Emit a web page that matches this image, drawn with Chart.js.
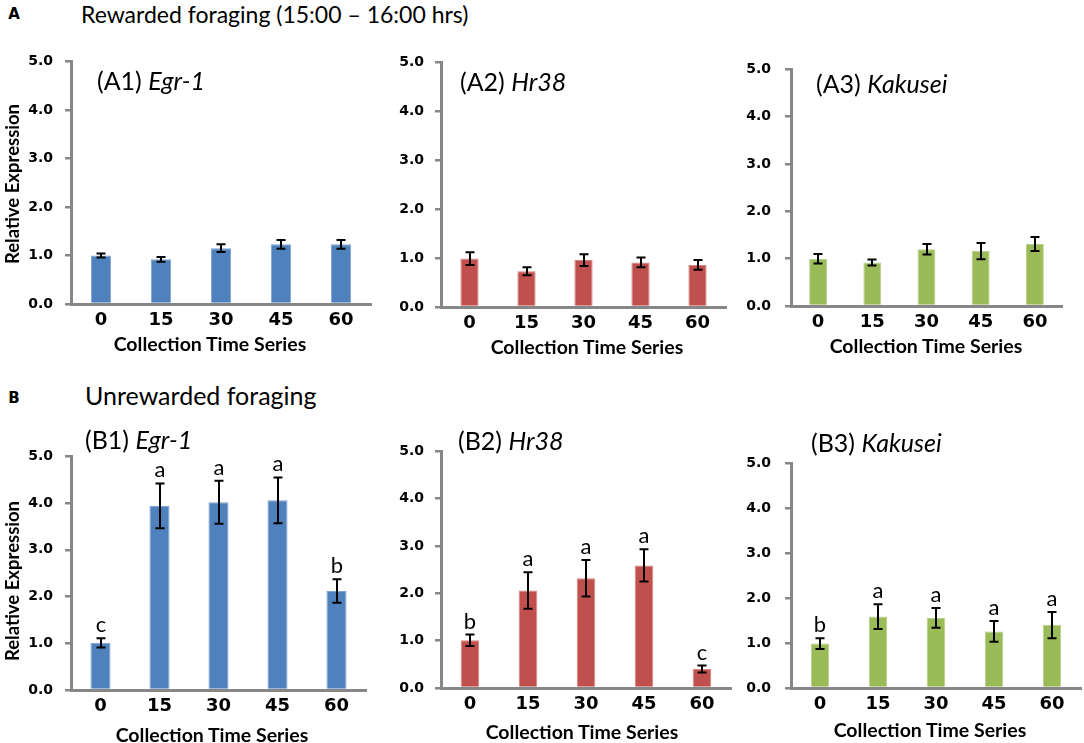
<!DOCTYPE html>
<html><head><meta charset="utf-8">
<script src="https://cdn.jsdelivr.net/npm/chart.js@4.4.1/dist/chart.umd.min.js"></script>
<style>
html,body{margin:0;padding:0;background:#fff;overflow:hidden;width:1084px;height:743px;}
#stage{position:relative;width:1084px;height:743px;}
canvas{position:absolute;}
.t{position:absolute;white-space:nowrap;line-height:1;color:#000;font-family:Lato,"Open Sans",sans-serif;}
</style></head><body><div id="stage"></div>
<script>
// ---- data ----
const categories = ['0', '15', '30', '45', '60'];

const rewardedEgr1 = [1.00, 0.92, 1.15, 1.23, 1.23];
const rewardedEgr1Err = [0.04, 0.05, 0.08, 0.09, 0.09];
const rewardedHr38 = [0.99, 0.73, 0.96, 0.91, 0.86];
const rewardedHr38Err = [0.13, 0.08, 0.12, 0.10, 0.10];
const rewardedKakusei = [1.00, 0.92, 1.20, 1.16, 1.31];
const rewardedKakuseiErr = [0.10, 0.065, 0.11, 0.17, 0.15];

const unrewardedEgr1 = [1.01, 3.94, 4.02, 4.06, 2.12];
const unrewardedEgr1Err = [0.10, 0.48, 0.46, 0.49, 0.25];
const unrewardedEgr1Letters = ['c', 'a', 'a', 'a', 'b'];
const unrewardedHr38 = [1.01, 2.06, 2.32, 2.59, 0.40];
const unrewardedHr38Err = [0.12, 0.385, 0.385, 0.34, 0.075];
const unrewardedHr38Letters = ['b', 'a', 'a', 'a', 'c'];
const unrewardedKakusei = [0.99, 1.59, 1.56, 1.26, 1.40];
const unrewardedKakuseiErr = [0.12, 0.275, 0.22, 0.23, 0.29];
const unrewardedKakuseiLetters = ['b', 'a', 'a', 'a', 'a'];

const yMin = 0, yMax = 5, yStep = 1;

// ---- styling / layout ----
const BLUE = '#4F81BD', RED = '#C0504D', GREEN = '#9BBB59';
const AXIS = '#878787';
const YW = 60, XH = 40, PT = 14, PR = 3;
const stage = document.getElementById('stage');

const errorPlugin = {
  id: 'errorBars',
  afterDatasetsDraw(chart, args, opts) {
    const ctx = chart.ctx, x = chart.scales.x, y = chart.scales.y;
    const vals = chart.data.datasets[0].data;
    ctx.save();
    ctx.strokeStyle = '#000';
    ctx.lineWidth = 2;
    vals.forEach((v, i) => {
      const e = opts.errors[i];
      const px = Math.round(x.getPixelForValue(i));
      const top = y.getPixelForValue(v + e), bot = y.getPixelForValue(v - e);
      ctx.beginPath();
      ctx.moveTo(px, top); ctx.lineTo(px, bot);
      ctx.moveTo(px - 4.5, top); ctx.lineTo(px + 4.5, top);
      ctx.moveTo(px - 4.5, bot); ctx.lineTo(px + 4.5, bot);
      ctx.stroke();
      if (opts.letters) {
        ctx.fillStyle = '#000';
        ctx.font = '22px Lato';
        ctx.textAlign = 'center';
        ctx.textBaseline = 'alphabetic';
        ctx.fillText(opts.letters[i], px, top - 6);
      }
    });
    ctx.restore();
  }
};

function makeChart(p) {
  const W = p.R - p.L + YW + PR, H = p.B - p.T + PT + XH;
  const cv = document.createElement('canvas');
  cv.width = W; cv.height = H;
  cv.style.left = (p.L - YW) + 'px'; cv.style.top = (p.T - PT) + 'px';
  cv.style.width = W + 'px'; cv.style.height = H + 'px';
  stage.appendChild(cv);
  new Chart(cv, {
    type: 'bar',
    data: {
      labels: categories,
      datasets: [{
        data: p.values,
        backgroundColor: p.color,
        borderColor: p.edge,
        borderWidth: 1,
        barPercentage: p.bp,
        categoryPercentage: 1
      }]
    },
    options: {
      responsive: false,
      animation: false,
      devicePixelRatio: 1,
      layout: { padding: { top: PT, right: PR, left: 0, bottom: 0 } },
      plugins: {
        legend: { display: false },
        tooltip: { enabled: false },
        errorBars: { errors: p.errors, letters: p.letters || null }
      },
      scales: {
        x: {
          offset: true,
          grid: { display: false, drawTicks: false },
          border: { display: true, color: AXIS, width: 3 },
          ticks: { padding: 6, color: '#000', font: { family: 'DejaVu Sans', weight: 'bold', size: 18 } },
          afterFit: s => { s.height = XH; }
        },
        y: {
          min: yMin, max: yMax,
          ticks: {
            stepSize: yStep, padding: p.tp, color: '#000',
            font: { family: 'DejaVu Sans', weight: 'bold', size: 14 },
            callback: v => Number(v).toFixed(1)
          },
          grid: { drawOnChartArea: false, drawTicks: true, tickLength: 6, color: AXIS, lineWidth: 2.5 },
          border: { display: true, color: AXIS, width: 3 },
          afterFit: s => { s.width = YW; }
        }
      }
    },
    plugins: [errorPlugin]
  });
}

const panels = [
  { L: 71, T: 55, R: 371, B: 304, values: rewardedEgr1, errors: rewardedEgr1Err, color: BLUE, edge: '#7EA3D1', bp: 0.34, tp: 12 },
  { L: 441, T: 57, R: 726, B: 307, values: rewardedHr38, errors: rewardedHr38Err, color: RED, edge: '#D68482', bp: 0.32, tp: 11 },
  { L: 791, T: 61, R: 1062, B: 306, values: rewardedKakusei, errors: rewardedKakuseiErr, color: GREEN, edge: '#B6CE88', bp: 0.33, tp: 14 },
  { L: 71, T: 450, R: 366, B: 690, values: unrewardedEgr1, errors: unrewardedEgr1Err, letters: unrewardedEgr1Letters, color: BLUE, edge: '#7EA3D1', bp: 0.34, tp: 12 },
  { L: 441, T: 446, R: 731, B: 688, values: unrewardedHr38, errors: unrewardedHr38Err, letters: unrewardedHr38Letters, color: RED, edge: '#D68482', bp: 0.32, tp: 11 },
  { L: 791, T: 455, R: 1081, B: 688, values: unrewardedKakusei, errors: unrewardedKakuseiErr, letters: unrewardedKakuseiLetters, color: GREEN, edge: '#B6CE88', bp: 0.32, tp: 14 }
];
panels.forEach(makeChart);

// ---- text ----
function addText(html, x, y, css, anchor) {
  const d = document.createElement('div');
  d.className = 't';
  d.innerHTML = html;
  d.style.left = x + 'px';
  d.style.top = y + 'px';
  Object.assign(d.style, css || {});
  d.style.transform = anchor === 'left' ? 'translate(0,-50%)' : (anchor === 'rot' ? 'translate(-50%,-50%) rotate(-90deg)' : 'translate(-50%,-50%)');
  stage.appendChild(d);
}
addText('A', 14, 14, { fontWeight: 'bold', fontSize: '15px', fontFamily: '"DejaVu Sans"' });
addText('Rewarded foraging (15:00 – 16:00 hrs)', 81, 14, { fontSize: '23px' }, 'left');
addText('B', 14, 398, { fontWeight: 'bold', fontSize: '15px', fontFamily: '"DejaVu Sans"' });
addText('Unrewarded foraging', 85, 395, { fontSize: '25px' }, 'left');

const titles = [
  ['(A1) <i>Egr-1</i>', 97, 80], ['(A2) <i>Hr38</i>', 460, 81], ['(A3) <i>Kakusei</i>', 816, 83],
  ['(B1) <i>Egr-1</i>', 85, 439], ['(B2) <i>Hr38</i>', 458, 440], ['(B3) <i>Kakusei</i>', 811, 442]
];
titles.forEach(t => addText(t[0], t[1], t[2], { fontSize: '25px' }, 'left'));

const xTitles = [[210, 344], [587, 347], [926, 346], [212, 735], [582, 732], [930, 730]];
xTitles.forEach(t => addText('Collection Time Series', t[0], t[1], { fontWeight: 'bold', fontSize: '19.5px' }));
addText('Relative Expression', 12, 184, { fontWeight: 'bold', fontSize: '18.5px' }, 'rot');
addText('Relative Expression', 12, 581, { fontWeight: 'bold', fontSize: '18.5px' }, 'rot');
</script>
</body></html>
